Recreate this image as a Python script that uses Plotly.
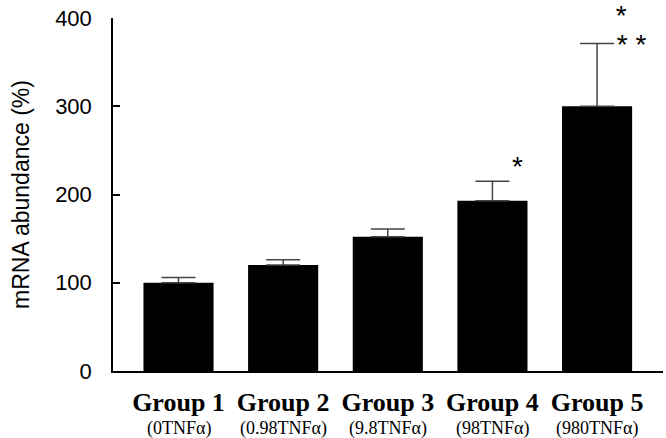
import plotly.graph_objects as go

# data
groups = ['Group 1', 'Group 2', 'Group 3', 'Group 4', 'Group 5']
doses = ['(0TNFα)', '(0.98TNFα)', '(9.8TNFα)', '(98TNFα)', '(980TNFα)']
means = [100, 120, 152, 193, 300]
errors = [6, 6, 9, 22, 71]
star_x = [3.24, 4.23, 4.33]
star_y = [229, 400, 367]
star_text = ['*', '*', '* *']

xs = list(range(len(groups)))

fig = go.Figure()
fig.add_trace(go.Bar(
    x=xs, y=means, width=0.67,
    marker=dict(color='black', line=dict(width=0)),
    error_y=dict(type='data', array=errors, arrayminus=[0] * len(errors),
                 symmetric=False, color='#444', thickness=1.5, width=17),
))
# significance stars
fig.add_trace(go.Scatter(
    x=star_x, y=star_y, text=star_text, mode='text', cliponaxis=False,
    textposition='middle center',
    textfont=dict(family='Liberation Sans, Arial', size=28, color='black'),
))

# dose line under each group label
for x, d in zip(xs, doses):
    fig.add_annotation(x=x, y=0, xref='x', yref='paper', text=d, showarrow=False,
                       yanchor='middle', yshift=-57, borderpad=0,
                       font=dict(family='Liberation Serif, Times New Roman', size=18, color='black'))

fig.update_xaxes(range=[-0.626, 4.63], tickmode='array',
                 tickvals=xs, ticktext=['<b>%s</b>' % g for g in groups],
                 showline=True, linecolor='black', linewidth=1.5,
                 ticks='', showgrid=False, zeroline=False, ticklabelstandoff=7,
                 tickfont=dict(family='Liberation Serif, Times New Roman', size=26, color='black'))
fig.update_yaxes(range=[0, 400], tickvals=[0, 100, 200, 300, 400],
                 showline=True, linecolor='black', linewidth=1.5,
                 ticks='inside', ticklen=7, tickcolor='black', tickwidth=1.5,
                 showgrid=False, zeroline=False, ticklabelstandoff=15,
                 tickfont=dict(family='Liberation Sans, Arial', size=22, color='black'),
                 title=dict(text='mRNA abundance (%)', standoff=19,
                            font=dict(family='Liberation Sans, Arial', size=23, color='black')))

fig.update_layout(width=666, height=438, showlegend=False,
                  plot_bgcolor='white', paper_bgcolor='white',
                  margin=dict(l=113, r=3, t=18, b=67))

fig.write_html("out.html", config={'displayModeBar': False},
               post_script="document.body.style.margin='0';")
